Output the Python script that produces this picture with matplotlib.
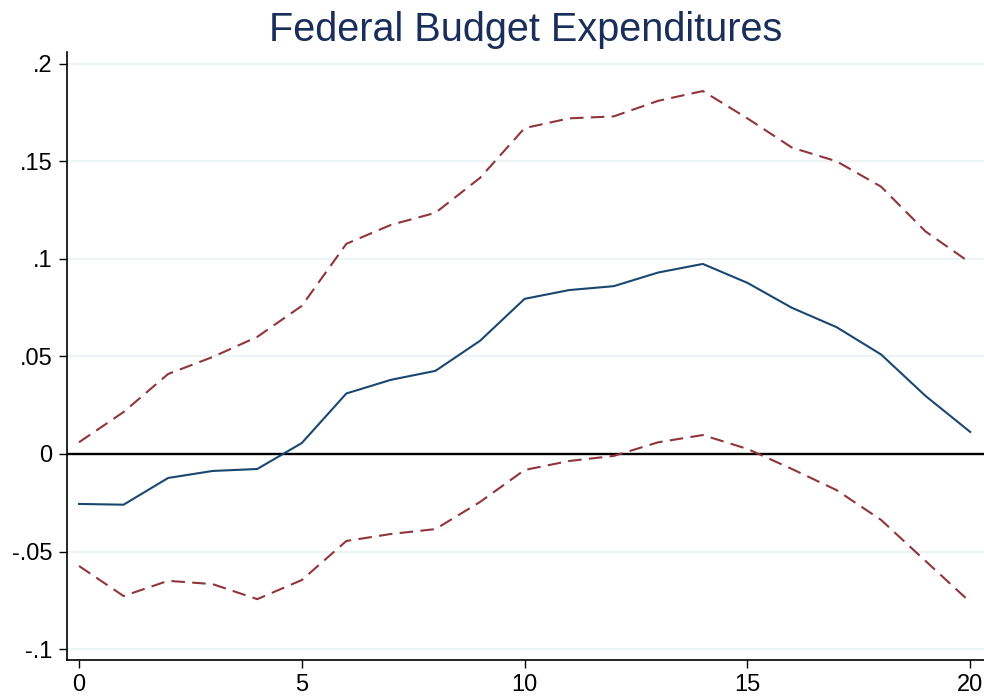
import matplotlib
matplotlib.use("Agg")
import matplotlib.pyplot as plt
import numpy as np

plt.rcParams['font.family'] = ['Liberation Sans', 'DejaVu Sans']

horizon = list(range(21))
irf = [-0.0256, -0.026, -0.0123, -0.0087, -0.0077, 0.0056, 0.031, 0.038, 0.0426, 0.058,
       0.0795, 0.084, 0.086, 0.093, 0.0974, 0.0877, 0.0749, 0.065, 0.051, 0.0297, 0.0113]
upper = [0.006, 0.0215, 0.041, 0.0497, 0.060, 0.0759, 0.1077, 0.1174, 0.1236, 0.1415,
         0.167, 0.172, 0.173, 0.181, 0.186, 0.172, 0.157, 0.150, 0.137, 0.114, 0.098]
lower = [-0.0574, -0.0728, -0.065, -0.0667, -0.0744, -0.0646, -0.0446, -0.041, -0.0385, -0.0246,
         -0.0082, -0.0036, -0.001, 0.006, 0.0097, 0.0026, -0.0077, -0.0185, -0.0338, -0.0549, -0.0759]
yticks = [-0.1, -0.05, 0, 0.05, 0.1, 0.15, 0.2]
ytick_labels = ['-.1', '-.05', '0', '.05', '.1', '.15', '.2']
xticks = [0, 5, 10, 15, 20]
title = 'Federal Budget Expenditures'

fig = plt.figure(figsize=(9.84, 7), dpi=100)
ax = fig.add_axes([0.0676, 0.0571, 0.9324, 0.8686])

for y in yticks:
    ax.axhline(y, color='#eaf2f3', lw=1.2, zorder=0)
ax.axhline(0, color='black', lw=1.7, zorder=2)
ax.plot(horizon, upper, color='#90353b', lw=1.5, dashes=(6.5, 3.5), zorder=3)
ax.plot(horizon, lower, color='#90353b', lw=1.5, dashes=(6.5, 3.5), zorder=3)
ax.plot(horizon, irf, color='#1a476f', lw=1.5, zorder=4)

ax.set_xlim(-0.28, 20.31)
ax.set_ylim(-0.1056, 0.206)
ax.set_yticks(yticks)
ax.set_yticklabels(ytick_labels)
ax.set_xticks(xticks)
for s in ['top', 'right']:
    ax.spines[s].set_visible(False)
for s in ['left', 'bottom']:
    ax.spines[s].set_linewidth(1.2)
ax.tick_params(axis='both', labelsize=17, length=6, width=1, color='black', pad=4)
ax.set_title(title, fontsize=28.5, color='#1a2e5a', pad=8)

fig.savefig('out.png', dpi=100)
